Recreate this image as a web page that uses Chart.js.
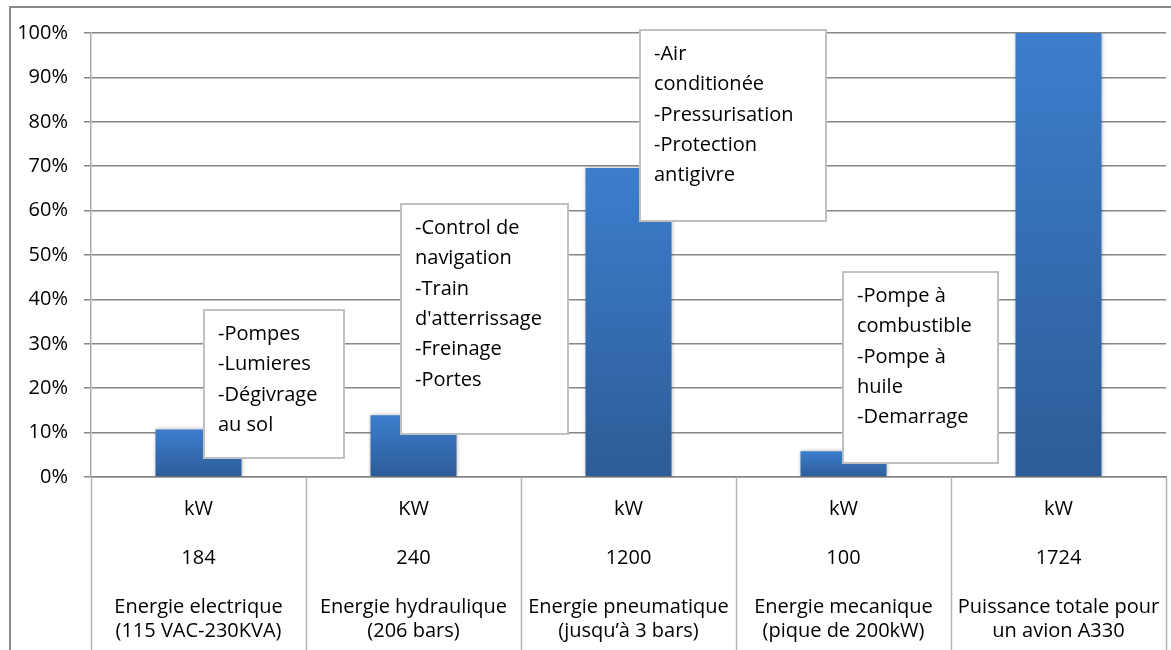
<!DOCTYPE html>
<html>
<head>
<meta charset="utf-8">
<script src="https://cdn.jsdelivr.net/npm/chart.js@4/dist/chart.umd.min.js"></script>
<style>
  html, body { margin: 0; padding: 0; background: #fff; }
  #wrap { width: 1171px; height: 650px; }
</style>
</head>
<body>
<div id="wrap"><canvas id="graph" width="1171" height="650"></canvas></div>
<script>
// data
const units = ['kW', 'KW', 'kW', 'kW', 'kW']
const powers = ['184', '240', '1200', '100', '1724']
const names = [
  ['Energie electrique', '(115 VAC-230KVA)'],
  ['Energie hydraulique', '(206 bars)'],
  ['Energie pneumatique', '(jusqu\u2019\u00e0 3 bars)'],
  ['Energie mecanique', '(pique de 200kW)'],
  ['Puissance totale pour', 'un avion A330']
]
const shares = [10.7, 13.9, 69.6, 5.8, 100]

const notes = [
  ['-Pompes', '-Lumieres', '-D\u00e9givrage', 'au sol'],
  ['-Control de', 'navigation', '-Train', "d'atterrissage", '-Freinage', '-Portes'],
  ['-Air', 'conditionée', '-Pressurisation', '-Protection', 'antigivre'],
  ['-Pompe \u00e0', 'combustible', '-Pompe \u00e0', 'huile', '-Demarrage']
]
// box corners in axis units: [category from, category to, % top, % bottom]
const noteBoxes = [
  [0.026, 0.677, 37.6, 4.3],
  [0.942, 1.719, 61.5, 9.7],
  [2.053, 2.919, 100.7, 57.7],
  [2.998, 3.719, 46.2, 3.2]
]

const FONT = '"Open Sans", Lato, sans-serif'

function barGradient(ctx) {
  const chart = ctx.chart
  const y = chart.scales.y
  if (!chart.chartArea || !y || ctx.dataIndex === undefined) return '#3a75be'
  const top = y.getPixelForValue(ctx.raw)
  const base = y.getPixelForValue(0)
  const g = chart.ctx.createLinearGradient(0, top, 0, base)
  g.addColorStop(0, '#3c7ecd')
  g.addColorStop(1, '#2d5c97')
  return g
}

const frame = {
  id: 'frame',
  beforeDraw(chart) {
    const c = chart.ctx
    c.save()
    c.fillStyle = '#fff'
    c.fillRect(0, 0, chart.width, chart.height)
    c.strokeStyle = '#898989'
    c.lineWidth = 2
    c.beginPath()
    c.moveTo(10, chart.height)
    c.lineTo(10, 7)
    c.lineTo(chart.width, 7)
    c.stroke()
    c.restore()
  },
  beforeDatasetsDraw(chart) {
    chart.ctx.save()
    chart.ctx.shadowColor = 'rgba(0,0,0,0.3)'
    chart.ctx.shadowBlur = 4
  },
  afterDatasetsDraw(chart) {
    chart.ctx.restore()
  },
  afterDraw(chart) {
    const c = chart.ctx
    const x = chart.scales.x
    const y = chart.scales.y
    const area = chart.chartArea
    const step = x.getPixelForValue(1) - x.getPixelForValue(0)
    // table dividers under the axis
    c.save()
    c.strokeStyle = '#b4b4b4'
    c.lineWidth = 1.5
    for (let i = 0; i <= units.length; i++) {
      const px = Math.round(x.getPixelForValue(0) - step / 2 + i * step) + 0.5
      c.beginPath()
      c.moveTo(px, area.bottom)
      c.lineTo(px, chart.height)
      c.stroke()
    }
    // text boxes
    c.font = '20px ' + FONT
    c.textBaseline = 'middle'
    notes.forEach((lines, i) => {
      const b = noteBoxes[i]
      const x0 = Math.round(x.getPixelForValue(0) + b[0] * step)
      const x1 = Math.round(x.getPixelForValue(0) + b[1] * step)
      const y0 = Math.round(y.getPixelForValue(b[2]))
      const y1 = Math.round(y.getPixelForValue(b[3]))
      c.fillStyle = '#fff'
      c.fillRect(x0, y0, x1 - x0, y1 - y0)
      c.strokeStyle = '#c0c0c0'
      c.lineWidth = 2
      c.strokeRect(x0, y0, x1 - x0, y1 - y0)
      c.fillStyle = '#000'
      lines.forEach((t, k) => c.fillText(t, x0 + 14, y0 + 24 + k * 30.4))
    })
    c.restore()
  }
}

new Chart(document.getElementById('graph'), {
  type: 'bar',
  data: {
    labels: names.map((n, i) => [units[i], '', powers[i], '', n[0], n[1]]),
    datasets: [{
      data: shares,
      backgroundColor: barGradient,
      borderWidth: 0,
      barPercentage: 0.4,
      categoryPercentage: 1
    }]
  },
  options: {
    responsive: false,
    animation: false,
    layout: { padding: { top: 33, right: 5, left: 0, bottom: 0 } },
    plugins: { legend: { display: false }, tooltip: { enabled: false } },
    scales: {
      x: {
        grid: { display: false, drawTicks: false },
        border: { color: '#868686', width: 1.5 },
        afterFit(scale) {
          scale.height = 173
          // labels may spill over the edges, like the original table
          scale.paddingLeft = 0
          scale.paddingRight = 0
        },
        ticks: {
          color: '#000',
          padding: 20,
          maxRotation: 0,
          autoSkip: false,
          font: { family: FONT, size: 20, lineHeight: '24.5px' }
        }
      },
      y: {
        min: 0,
        max: 100,
        afterFit(scale) { scale.width = 91 },
        grid: { color: '#868686', lineWidth: 1.5, tickLength: 7 },
        border: { color: '#a8a8a8', width: 1.5 },
        ticks: {
          stepSize: 10,
          color: '#000',
          padding: 16,
          font: { family: FONT, size: 20 },
          callback: v => v + '%'
        }
      }
    }
  },
  plugins: [frame]
})
</script>
</body>
</html>
